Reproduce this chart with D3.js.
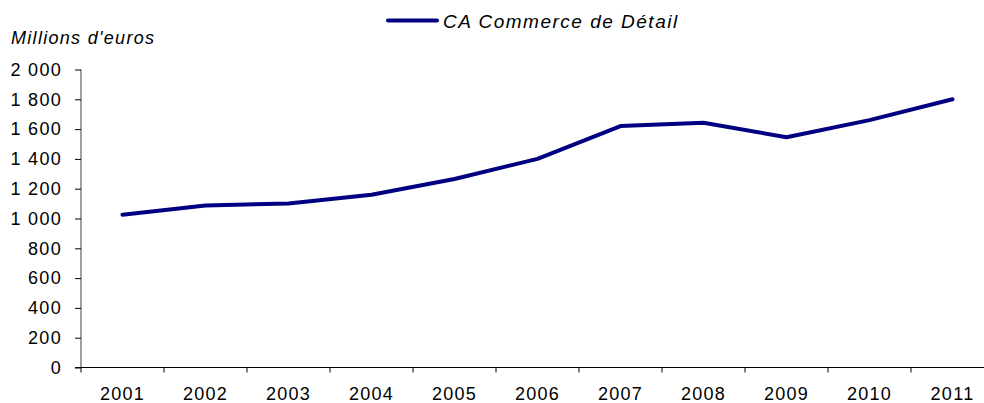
<!DOCTYPE html>
<html>
<head>
<meta charset="utf-8">
<script src="https://cdn.jsdelivr.net/npm/d3@7"></script>
<style>
body{margin:0;background:#fff;}
svg{display:block;font-family:"Liberation Sans",Arial,sans-serif;}
.lbl{font-size:18px;letter-spacing:1.3px;fill:#000;}
</style>
</head>
<body>
<svg id="chart" width="984" height="403"></svg>
<script>
var years = ["2001","2002","2003","2004","2005","2006","2007","2008","2009","2010","2011"];
var caDetail = [1025, 1088, 1100, 1160, 1265, 1400, 1620, 1643, 1545, 1660, 1800];
var yTicks = [0, 200, 400, 600, 800, 1000, 1200, 1400, 1600, 1800, 2000];
var seriesName = "CA Commerce de Détail";
var unitLabel = "Millions d'euros";

var svg = d3.select("#chart");
var mg = {left: 81, top: 69.5, bottom: 367.5, right: 994};

var fr = d3.formatLocale({decimal: ",", thousands: " ", grouping: [3], currency: ["", " €"]});
var fmt = fr.format(",");

var x = d3.scaleBand().domain(years).range([mg.left, mg.right]).padding(0);
var y = d3.scaleLinear().domain([0, 2000]).range([mg.bottom, mg.top]);

// y axis
var yAxis = svg.append("g")
	.attr("transform", "translate(" + mg.left + ",0)")
	.call(d3.axisLeft(y).tickValues(yTicks).tickFormat(fmt).tickSize(6).tickPadding(13));
yAxis.select(".domain").attr("stroke", "#808080").attr("stroke-width", 1.5)
	.attr("d", "M0," + y(2000) + "V" + y(0));
yAxis.selectAll(".tick line").attr("stroke", "#000");
yAxis.selectAll(".tick text").attr("class", "lbl").attr("font-family", null).attr("font-size", null);
yAxis.attr("font-family", null).attr("font-size", null);

// x axis: line, ticks at band boundaries, labels at centers
var xg = svg.append("g");
xg.append("line")
	.attr("x1", mg.left - 6).attr("x2", 984)
	.attr("y1", mg.bottom).attr("y2", mg.bottom)
	.attr("stroke", "#000").attr("stroke-width", 1.2);
xg.selectAll(".xt").data(years).enter().append("line")
	.attr("x1", function(d){ return x(d); }).attr("x2", function(d){ return x(d); })
	.attr("y1", mg.bottom).attr("y2", mg.bottom + 5)
	.attr("stroke", "#000");
xg.selectAll(".xl").data(years).enter().append("text")
	.attr("class", "lbl")
	.attr("x", function(d){ return x(d) + x.bandwidth() / 2; })
	.attr("y", 400)
	.attr("text-anchor", "middle")
	.text(function(d){ return d; });

// series line
var line = d3.line()
	.x(function(d, i){ return x(years[i]) + x.bandwidth() / 2; })
	.y(function(d){ return y(d); });
svg.append("path").datum(caDetail)
	.attr("d", line)
	.attr("fill", "none")
	.attr("stroke", "#000080")
	.attr("stroke-width", 4)
	.attr("stroke-linecap", "round")
	.attr("stroke-linejoin", "round");

// unit label
svg.append("text").attr("class", "lbl")
	.attr("x", 11).attr("y", 44)
	.style("font-style", "italic")
	.text(unitLabel);

// legend
svg.append("line")
	.attr("x1", 388).attr("x2", 437).attr("y1", 20.5).attr("y2", 20.5)
	.attr("stroke", "#000080").attr("stroke-width", 4).attr("stroke-linecap", "round");
svg.append("text").attr("class", "lbl")
	.attr("x", 443).attr("y", 28)
	.style("font-style", "italic").style("font-size", "19px").style("letter-spacing", "1.5px")
	.text(seriesName);
</script>
</body>
</html>
